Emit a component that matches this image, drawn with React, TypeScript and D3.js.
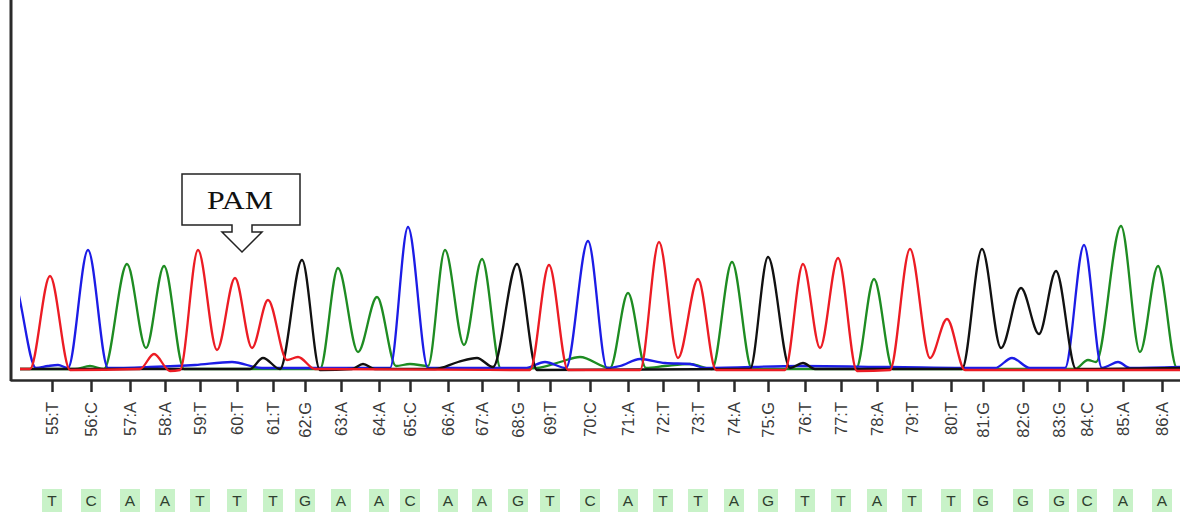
import React, { useEffect, useRef } from "react";
import * as d3 from "d3";

// base calls shown under the trace
const baseLabels = [
  "55:T", "56:C", "57:A", "58:A", "59:T", "60:T", "61:T", "62:G", "63:A", "64:A",
  "65:C", "66:A", "67:A", "68:G", "69:T", "70:C", "71:A", "72:T", "73:T", "74:A",
  "75:G", "76:T", "77:T", "78:A", "79:T", "80:T", "81:G", "82:G", "83:G", "84:C",
  "85:A", "86:A",
];
// scan position of each base call
const callScans = [
  42, 81, 120, 155, 190, 227, 263, 295, 331, 369, 400, 438, 472, 508, 540, 580,
  618, 653, 688, 724, 758, 795, 831, 867, 902, 941, 973, 1013, 1049, 1077, 1113, 1152,
];
const sequence = [
  "T", "C", "A", "A", "T", "T", "T", "G", "A", "A", "C", "A", "A", "G", "T", "C",
  "A", "T", "T", "A", "G", "T", "T", "A", "T", "T", "G", "G", "G", "C", "A", "A",
];

// trace samples per dye channel: [scan, signal]
const traceA: [number, number][] = [
  [0, 10], [65, 10], [80, 40], [94, 10], [117, 1060], [136, 220], [154, 1040], [174, 10],
  [310, 10], [328, 1020], [348, 180], [367, 730], [386, 40], [400, 60], [418, 40],
  [435, 1200], [454, 250], [472, 1110], [491, 10], [527, 20], [550, 80], [570, 130],
  [600, 20], [618, 770], [636, 20], [655, 40], [680, 60], [702, 10], [722, 1080],
  [742, 10], [846, 10], [864, 910], [883, 10], [1065, 10], [1078, 100], [1086, 80],
  [1111, 1440], [1130, 180], [1148, 1040], [1167, 20], [1170, 20],
];
const traceC: [number, number][] = [
  [-18, 20], [3, 890], [26, 20], [38, 40], [48, 50], [58, 20], [78, 1200], [98, 20],
  [140, 30], [185, 50], [222, 80], [252, 20], [380, 20], [398, 1430], [418, 20],
  [515, 20], [535, 80], [556, 20], [578, 1290], [597, 20], [610, 40], [630, 110],
  [655, 70], [680, 60], [695, 20], [790, 40], [880, 30], [985, 20], [1002, 120],
  [1020, 20], [1055, 20], [1074, 1250], [1092, 20], [1098, 40], [1108, 80], [1120, 20],
  [1170, 30],
];
const traceG: [number, number][] = [
  [0, 10], [240, 10], [253, 120], [270, 10], [292, 1100], [310, 0], [342, 10], [353, 60],
  [365, 10], [425, 10], [448, 80], [467, 120], [483, 30], [507, 1060], [527, 0],
  [740, 10], [758, 1130], [780, 20], [793, 70], [805, 10], [952, 10], [972, 1210],
  [991, 220], [1011, 820], [1029, 360], [1046, 990], [1066, 10], [1170, 20],
];
const traceT: [number, number][] = [
  [0, 10], [20, 10], [40, 940], [60, 0], [130, 10], [144, 160], [160, -10], [170, 0],
  [188, 1200], [207, 200], [225, 920], [242, 220], [258, 700], [277, 100], [288, 130],
  [305, 10], [520, 0], [539, 1050], [558, 0], [630, 0], [649, 1280], [668, 120],
  [688, 910], [706, 0], [775, 0], [793, 1060], [810, 220], [828, 1120], [847, -10],
  [880, 0], [900, 1210], [920, 120], [937, 510], [955, 0], [1170, 0],
];

const channels = [
  { name: "A", data: traceA, color: "#1e8c22" },
  { name: "C", data: traceC, color: "#1c1ce6" },
  { name: "G", data: traceG, color: "#111111" },
  { name: "T", data: traceT, color: "#ec1c24" },
];

const width = 1180;
const height = 518;
const axisY = 380;

const App: React.FC = () => {
  const svgRef = useRef<SVGSVGElement>(null);

  useEffect(() => {
    const svg = d3.select(svgRef.current);
    svg.selectAll("*").remove();

    const x = d3.scaleLinear().domain([0, 1170]).range([10, 1180]);
    const y = d3.scaleLinear().domain([0, 3700]).range([370, 0]);

    svg
      .append("defs")
      .append("clipPath")
      .attr("id", "trace-clip")
      .append("rect")
      .attr("x", 20)
      .attr("y", 0)
      .attr("width", width - 20)
      .attr("height", axisY - 2);

    const line = d3
      .line<[number, number]>()
      .x((d) => x(d[0]))
      .y((d) => y(d[1]))
      .curve(d3.curveMonotoneX);

    const traces = svg.append("g").attr("clip-path", "url(#trace-clip)");
    channels.forEach((c) => {
      traces
        .append("path")
        .attr("d", line(c.data))
        .attr("fill", "none")
        .attr("stroke", c.color)
        .attr("stroke-width", 2.3)
        .attr("stroke-linejoin", "round");
    });

    // left frame line
    svg
      .append("line")
      .attr("x1", 11)
      .attr("x2", 11)
      .attr("y1", 0)
      .attr("y2", axisY + 1)
      .attr("stroke", "#2a2a2a")
      .attr("stroke-width", 3);

    // bottom axis with base call ticks
    const xAxis = d3
      .axisBottom(x)
      .tickValues(callScans)
      .tickSize(12)
      .tickSizeOuter(0)
      .tickFormat((_, i) => baseLabels[i]);

    svg
      .append("g")
      .attr("transform", `translate(0,${axisY})`)
      .call(xAxis)
      .call((g) => g.select(".domain").attr("stroke", "#2a2a2a").attr("stroke-width", 2.5))
      .call((g) => g.selectAll(".tick line").attr("stroke", "#2a2a2a").attr("stroke-width", 2.5))
      .call((g) =>
        g
          .selectAll(".tick text")
          .attr("transform", "rotate(-90)")
          .attr("text-anchor", "end")
          .attr("x", -22)
          .attr("y", 0)
          .attr("dy", "0.36em")
          .attr("fill", "#3a3a3a")
          .style("font-family", "'Liberation Sans', Arial, sans-serif")
          .style("font-size", "16.5px")
      );

    // called sequence row
    const seq = svg.append("g");
    sequence.forEach((b, i) => {
      const cx = x(callScans[i]);
      seq
        .append("rect")
        .attr("x", cx - 10)
        .attr("y", 489)
        .attr("width", 20)
        .attr("height", 23)
        .attr("fill", "#c8f2c8");
      seq
        .append("text")
        .attr("x", cx)
        .attr("y", 506)
        .attr("text-anchor", "middle")
        .attr("fill", "#2f3f30")
        .style("font-family", "'Liberation Sans', Arial, sans-serif")
        .style("font-size", "15.5px")
        .text(b);
    });

    // PAM callout
    const pam = svg.append("g");
    pam
      .append("path")
      .attr(
        "d",
        "M182,174 H300 V225 H252 V232 H262 L242,252 L222,232 H232 V225 H182 Z"
      )
      .attr("fill", "#fff")
      .attr("stroke", "#222")
      .attr("stroke-width", 1.5);
    pam
      .append("text")
      .attr("x", 240)
      .attr("y", 209)
      .attr("text-anchor", "middle")
      .attr("textLength", 66)
      .attr("lengthAdjust", "spacingAndGlyphs")
      .attr("fill", "#111")
      .style("font-family", "'Liberation Serif', 'Times New Roman', serif")
      .style("font-size", "25px")
      .text("PAM");
  }, []);

  return (
    <svg
      ref={svgRef}
      width={width}
      height={height}
      style={{ position: "absolute", left: 0, top: 0, background: "#fff" }}
    />
  );
};

export default App;
